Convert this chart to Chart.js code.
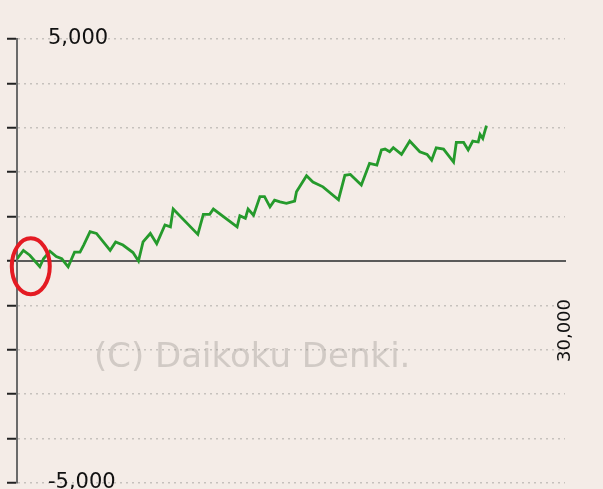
<!DOCTYPE html>
<html>
<head>
<meta charset="utf-8">
<script src="https://cdn.jsdelivr.net/npm/chart.js@4"></script>
<style>
  body{margin:0;background:#f4ece7;}
  canvas{display:block;}
</style>
</head>
<body>
<canvas id="diffChart" width="603" height="489"></canvas>
<script>
// games played (x) and coin difference (y)
const games=[0,350,700,1250,1450,1800,2150,2450,2800,3150,3450,3650,4000,4350,5100,5400,5800,6350,6650,6900,7300,7650,8100,8400,8550,9900,10200,10550,10750,12050,12200,12500,12650,12950,13300,13550,13850,14100,14400,14750,15200,15300,15850,16200,16750,17600,17950,18250,18850,19300,19700,19950,20150,20400,20600,21050,21500,22050,22450,22700,22950,23350,23900,24050,24450,24700,24950,25250,25350,25500,25700];
const diff=[50,240,130,-130,50,220,100,50,-130,200,200,360,660,620,240,430,360,190,0,430,620,390,810,770,1170,600,1050,1050,1170,770,1020,960,1170,1030,1450,1450,1220,1370,1330,1300,1350,1560,1920,1780,1670,1380,1930,1950,1710,2200,2160,2500,2520,2460,2550,2400,2700,2460,2400,2270,2550,2520,2230,2670,2670,2500,2700,2680,2850,2760,3050];
const yLabels=[5000,-5000];
const xLabels=[30000];
const watermark="(C) Daikoku Denki.";
// red circle marked around the start: [game, diff]
const markAt=[700,-120];

const points=games.map((g,i)=>({x:g,y:diff[i]}));

const extras={
  id:"extras",
  beforeDatasetsDraw(chart){
    const ctx=chart.ctx;
    ctx.save();
    ctx.font="34px 'DejaVu Sans'";
    ctx.fillStyle="rgba(160,155,150,0.42)";
    ctx.textBaseline="middle";
    ctx.fillText(watermark,94,358);
    ctx.restore();
  },
  afterDatasetsDraw(chart){
    const ctx=chart.ctx;
    const cx=chart.scales.x.getPixelForValue(markAt[0]);
    const cy=chart.scales.y.getPixelForValue(markAt[1]);
    ctx.save();
    ctx.strokeStyle="#e41b23";
    ctx.lineWidth=4;
    ctx.beginPath();
    ctx.ellipse(cx+1,cy,19,28,0,0,Math.PI*2);
    ctx.stroke();
    ctx.restore();
  }
};

new Chart(document.getElementById("diffChart"),{
  type:"line",
  data:{
    datasets:[{
      data:points,
      borderColor:"#259a2c",
      borderWidth:2.8,
      pointRadius:0,
      tension:0
    }]
  },
  options:{
    responsive:false,
    animation:false,
    layout:{padding:{left:7,top:39,right:38,bottom:6}},
    plugins:{legend:{display:false},tooltip:{enabled:false}},
    scales:{
      x:{
        type:"linear",
        position:{y:0},
        min:0,
        max:30000,
        grid:{display:false},
        border:{display:true,color:"#5a5a5a",width:2},
        ticks:{
          stepSize:30000,
          minRotation:90,
          maxRotation:90,
          padding:30,
          color:"#111",
          font:{family:"DejaVu Sans",size:18},
          callback:(v)=>xLabels.includes(v)?v.toLocaleString("en-US"):null
        },
        afterFit(scale){scale.paddingLeft=0;scale.paddingRight=0;}
      },
      y:{
        min:-5000,
        max:5000,
        grid:{
          color:(c)=>c.tick&&c.tick.value===0?"rgba(0,0,0,0)":"#c6c1bd",
          lineWidth:1.5,
          tickLength:10,
          tickColor:"#222",
          tickWidth:2,
          tickBorderDash:[]
        },
        border:{display:true,color:"#6a6a6a",width:2,dash:[2,4]},
        ticks:{
          stepSize:1000,
          mirror:true,
          padding:31,
          color:"#111",
          font:{family:"DejaVu Sans",size:21},
          callback:(v)=>yLabels.includes(v)?v.toLocaleString("en-US"):""
        },
        afterFit(scale){scale.width=10;scale.paddingTop=0;scale.paddingBottom=0;}
      }
    }
  },
  plugins:[extras]
});
</script>
</body>
</html>
